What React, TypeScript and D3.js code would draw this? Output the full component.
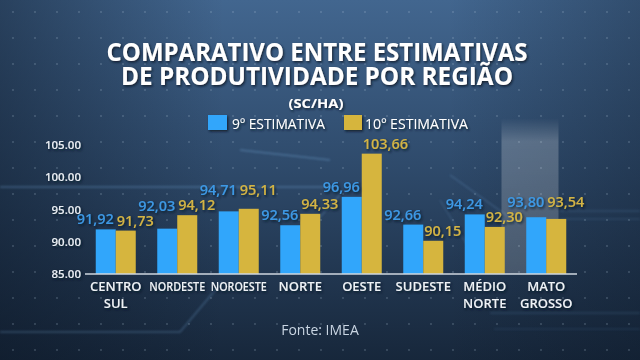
import React from "react";
import * as d3 from "d3";

const categories = ["CENTRO SUL", "NORDESTE", "NOROESTE", "NORTE", "OESTE", "SUDESTE", "MÉDIO NORTE", "MATO GROSSO"];
const series = ["9º ESTIMATIVA", "10º ESTIMATIVA"];
const est9 = [91.92, 92.03, 94.71, 92.56, 96.96, 92.66, 94.24, 93.8];
const est10 = [91.73, 94.12, 95.11, 94.33, 103.66, 90.15, 92.3, 93.54];
const yTicks = [85, 90, 95, 100, 105];
const titleLines = ["COMPARATIVO ENTRE ESTIMATIVAS", "DE PRODUTIVIDADE POR REGIÃO"];
const unitLabel = "(SC/HA)";
const sourceLabel = "Fonte:  IMEA";
const highlighted = "MATO GROSSO";

const W = 640;
const H = 360;
const BLUE = "#31a6fb";
const GOLD = "#d6b53e";
const BLUE_TXT = "#3d98e4";
const GOLD_TXT = "#d3b444";
const FONT = "'Open Sans', 'Noto Sans', sans-serif";
const LABEL_FS = 14.5;

type Lab = { text: string; x: number; y: number; anchor: "start" | "end"; fill: string; x0: number; x1: number };

export default function App() {
  const x0 = d3.scaleBand<string>().domain(categories).range([85, 577]).padding(0);
  const x1 = d3.scaleBand<string>().domain(series).range([0, 40]).padding(0);
  const y = d3.scaleLinear().domain([85, 105]).range([274, 145]);
  const fmtVal = (v: number) => d3.format(".2f")(v).replace(".", ",");
  const fmtTick = d3.format(".2f");
  const values = [est9, est10];

  const dots: [number, number][] = [];
  for (let yy = 12; yy < H; yy += 26) {
    for (let xx = 13; xx < W; xx += 22) dots.push([xx, yy]);
  }

  const barW = x1.bandwidth();
  const textW = (s: string) => s.replace(",", "").length * LABEL_FS * 0.572 + LABEL_FS * 0.28;

  // value labels with simple collision avoidance (raise a group above earlier labels)
  const placed: Lab[] = [];
  categories.forEach((c, i) => {
    const cx = (x0(c) as number) + x0.bandwidth() / 2;
    const t9 = fmtVal(est9[i]);
    const t10 = fmtVal(est10[i]);
    const a: Lab = { text: t9, x: cx - 2, y: y(est9[i]) - 5, anchor: "end", fill: BLUE_TXT, x0: cx - 2 - textW(t9), x1: cx - 2 };
    const b: Lab = { text: t10, x: cx + 1, y: y(est10[i]) - 5, anchor: "start", fill: GOLD_TXT, x0: cx + 1, x1: cx + 1 + textW(t10) };
    const group = [a, b];
    for (let iter = 0; iter < 5; iter++) {
      let moved = false;
      for (const g of group) {
        for (const p of placed) {
          const hx = g.x0 < p.x1 + 1 && g.x1 > p.x0 - 1;
          const vy = g.y - 11 < p.y + 3 && g.y + 3 > p.y - 11;
          if (hx && vy) {
            const target = p.y - 15;
            group.forEach((q) => { if (q.y > target) q.y = target; });
            moved = true;
          }
        }
      }
      if (!moved) break;
    }
    placed.push(a, b);
  });

  return (
    <svg width={W} height={H} style={{ position: "absolute", left: 0, top: 0, display: "block" }}>
      <defs>
        <linearGradient id="bgV" x1="0" y1="0" x2="0" y2="1">
          <stop offset="0" stopColor="#42668f" />
          <stop offset="0.45" stopColor="#2f4b6c" />
          <stop offset="1" stopColor="#17273b" />
        </linearGradient>
        <linearGradient id="bgH" x1="0" y1="0" x2="1" y2="0">
          <stop offset="0" stopColor="#0a1422" stopOpacity="0.45" />
          <stop offset="0.35" stopColor="#0a1422" stopOpacity="0" />
          <stop offset="0.7" stopColor="#0a1422" stopOpacity="0" />
          <stop offset="1" stopColor="#0a1422" stopOpacity="0.3" />
        </linearGradient>
        <linearGradient id="hl" x1="0" y1="0" x2="0" y2="1">
          <stop offset="0" stopColor="#ffffff" stopOpacity="0" />
          <stop offset="0.15" stopColor="#ffffff" stopOpacity="0.22" />
          <stop offset="1" stopColor="#ffffff" stopOpacity="0.18" />
        </linearGradient>
        <filter id="shadow" x="-10%" y="-30%" width="120%" height="160%">
          <feDropShadow dx="1.2" dy="1.5" stdDeviation="0.8" floodColor="#0b1626" floodOpacity="0.85" />
        </filter>
        <filter id="glow" x="-5%" y="-50%" width="110%" height="200%">
          <feGaussianBlur stdDeviation="1" />
        </filter>
      </defs>

      <rect x={0} y={0} width={W} height={H} fill="url(#bgV)" />
      <rect x={0} y={0} width={W} height={H} fill="url(#bgH)" />

      {dots.map(([dx, dy], i) => (
        <circle key={i} cx={dx} cy={dy} r={0.9} fill="#b8cce0" opacity={0.28} />
      ))}

      <g stroke="#7fb4e6" fill="none" filter="url(#glow)">
        <path d="M0,187 L330,187" strokeWidth={1.5} opacity={0.35} />
        <path d="M0,332 L180,332 L222,282" strokeWidth={1.5} opacity={0.3} />
        <path d="M490,313 L640,313" strokeWidth={1.2} opacity={0.25} />
        <path d="M494,329 L640,329" strokeWidth={1} opacity={0.18} />
        <path d="M560,211 L640,211" strokeWidth={1} opacity={0.25} />
        <path d="M560,219 L640,219" strokeWidth={1} opacity={0.2} />
        <path d="M240,150 L330,160" strokeWidth={1.5} opacity={0.35} />
        <path d="M285,255 L340,195" strokeWidth={1.2} opacity={0.3} />
        <path d="M450,175 L520,225" strokeWidth={1.2} opacity={0.25} />
        <path d="M440,200 L470,250" strokeWidth={1.2} opacity={0.2} />
      </g>

      <g fill="#ffffff" fontFamily={FONT} fontWeight={700} textAnchor="middle" filter="url(#shadow)">
        <text fontSize={25.5}>
          <tspan x={317} y={61} textLength={421} lengthAdjust="spacingAndGlyphs">{titleLines[0]}</tspan>
          <tspan x={317} y={85} textLength={392} lengthAdjust="spacingAndGlyphs">{titleLines[1]}</tspan>
        </text>
        <text x={316} y={107.5} fontSize={13} textLength={55} lengthAdjust="spacingAndGlyphs">{unitLabel}</text>
      </g>

      <g fontFamily={FONT} fontSize={15} fill="#ffffff" filter="url(#shadow)">
        <rect x={208} y={115} width={19} height={15} fill={BLUE} />
        <text x={232} y={128.5} textLength={93} lengthAdjust="spacingAndGlyphs">{series[0]}</text>
        <rect x={344} y={115} width={18} height={15} fill={GOLD} />
        <text x={365} y={128.5} textLength={103} lengthAdjust="spacingAndGlyphs">{series[1]}</text>
      </g>

      <rect
        x={(x0(highlighted) as number) - 14}
        y={118}
        width={57}
        height={y(85) - 118}
        fill="url(#hl)"
      />

      <g fontFamily={FONT} fontSize={11.5} fontWeight={600} fill="#e9eef4" textAnchor="end" filter="url(#shadow)">
        {yTicks.map((t) => (
          <text key={t} x={81} y={y(t) + 4}>{fmtTick(t)}</text>
        ))}
      </g>

      {categories.map((c) => {
        const i = categories.indexOf(c);
        const cx = (x0(c) as number) + x0.bandwidth() / 2;
        return (
          <g key={c}>
            {series.map((s, si) => {
              const v = values[si][i];
              const bx = cx - 20 + (x1(s) as number);
              return <rect key={s} x={bx} y={y(v)} width={barW} height={y(85) - y(v)} fill={si === 0 ? BLUE : GOLD} />;
            })}
          </g>
        );
      })}

      <line x1={85} x2={577} y1={y(85)} y2={y(85)} stroke="#cfd7df" strokeWidth={1.6} />

      <g fontFamily={FONT} fontSize={LABEL_FS} fontWeight={600} filter="url(#shadow)">
        {placed.map((l, i) => (
          <text key={i} x={l.x} y={l.y} textAnchor={l.anchor} fill={l.fill}>{l.text}</text>
        ))}
      </g>

      <g fontFamily={FONT} fill="#eef2f6" fontWeight={600} textAnchor="middle" filter="url(#shadow)">
        {categories.map((c) => {
          const cx = (x0(c) as number) + x0.bandwidth() / 2;
          const words = c.split(" ");
          const long = words.length === 1 && c.length > 7;
          return (
            <text
              key={c}
              x={cx}
              y={291}
              fontSize={long ? 12.5 : 13}
              {...(long ? { textLength: 56, lengthAdjust: "spacingAndGlyphs" } : {})}
            >
              {words.length === 1
                ? c
                : words.map((w, wi) => (
                    <tspan key={wi} x={cx} dy={wi === 0 ? 0 : 17}>{w}</tspan>
                  ))}
            </text>
          );
        })}
      </g>

      <text x={320} y={335} fontFamily={FONT} fontSize={14} fill="#c9d5e2" textAnchor="middle">{sourceLabel}</text>
    </svg>
  );
}
